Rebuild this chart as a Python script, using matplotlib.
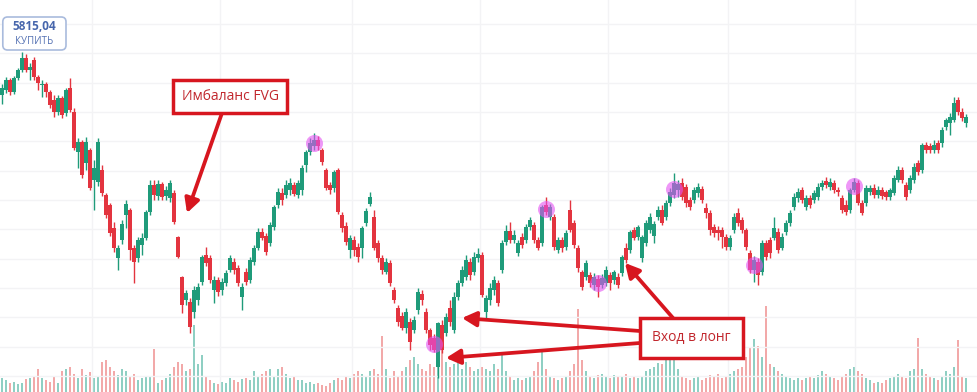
import numpy as np
import matplotlib
matplotlib.use("Agg")
import matplotlib.pyplot as plt
from matplotlib.patches import Rectangle, FancyBboxPatch

# OHLC (one candle per bar)
opens = [
    5837, 5842, 5852, 5840, 5854, 5862, 5874, 5862, 5872, 5855,
    5847, 5848, 5840, 5832, 5820, 5834, 5819, 5844, 5820, 5780,
    5790, 5769, 5782, 5752, 5750, 5762, 5737, 5727, 5704, 5674,
    5692, 5717, 5722, 5684, 5674, 5687, 5694, 5720, 5747, 5736,
    5748, 5736, 5734, 5739, 5695, 5655, 5632, 5630, 5620, 5632,
    5650, 5677, 5674, 5642, 5652, 5642, 5649, 5662, 5670, 5664,
    5635, 5660, 5652, 5670, 5684, 5700, 5696, 5689, 5705, 5727,
    5739, 5737, 5742, 5747, 5737, 5742, 5767, 5780, 5786, 5792,
    5782, 5762, 5747, 5744, 5762, 5717, 5706, 5682, 5692, 5685,
    5684, 5709, 5728, 5715, 5689, 5674, 5660, 5669, 5642, 5624,
    5616, 5604, 5610, 5602, 5622, 5638, 5620, 5602, 5594, 5565,
    5607, 5599, 5624, 5602, 5635, 5649, 5655, 5670, 5660, 5674,
    5677, 5620, 5632, 5642, 5649, 5662, 5690, 5701, 5692, 5679,
    5695, 5692, 5705, 5707, 5692, 5689, 5727, 5715, 5715, 5682,
    5692, 5685, 5722, 5709, 5684, 5660, 5655, 5657, 5647, 5653,
    5647, 5649, 5657, 5652, 5655, 5659, 5684, 5682, 5702, 5695,
    5674, 5689, 5702, 5696, 5715, 5722, 5715, 5729, 5737, 5742,
    5749, 5745, 5732, 5732, 5739, 5743, 5724, 5719, 5705, 5702,
    5702, 5695, 5685, 5702, 5719, 5712, 5702, 5679, 5662, 5670,
    5660, 5689, 5692, 5694, 5700, 5684, 5700, 5709, 5725, 5734,
    5742, 5725, 5734, 5732, 5735, 5745, 5751, 5745, 5749, 5742,
    5734, 5727, 5722, 5742, 5749, 5729, 5729, 5740, 5744, 5737,
    5742, 5740, 5735, 5739, 5752, 5762, 5747, 5742, 5752, 5769,
    5762, 5787, 5786, 5782, 5789, 5789, 5805, 5809, 5812, 5832,
    5820, 5809,
]
highs = [
    5848, 5855, 5854, 5856, 5864, 5880, 5878, 5869, 5875, 5857,
    5852, 5850, 5842, 5837, 5837, 5836, 5844, 5854, 5824, 5794,
    5792, 5795, 5784, 5772, 5794, 5767, 5739, 5729, 5710, 5687,
    5712, 5732, 5724, 5687, 5695, 5699, 5722, 5752, 5752, 5752,
    5750, 5746, 5752, 5742, 5696, 5656, 5642, 5634, 5646, 5649,
    5677, 5685, 5677, 5656, 5655, 5654, 5662, 5677, 5674, 5667,
    5649, 5664, 5675, 5687, 5704, 5704, 5699, 5710, 5727, 5744,
    5744, 5752, 5754, 5750, 5752, 5767, 5782, 5794, 5799, 5796,
    5784, 5764, 5750, 5762, 5764, 5720, 5710, 5697, 5696, 5689,
    5706, 5724, 5740, 5722, 5692, 5677, 5674, 5672, 5645, 5627,
    5620, 5624, 5614, 5616, 5644, 5642, 5624, 5604, 5598, 5610,
    5612, 5619, 5632, 5640, 5652, 5666, 5677, 5674, 5680, 5684,
    5680, 5637, 5649, 5656, 5652, 5692, 5707, 5710, 5702, 5692,
    5699, 5708, 5715, 5710, 5695, 5727, 5735, 5728, 5718, 5695,
    5695, 5702, 5732, 5712, 5687, 5662, 5672, 5660, 5659, 5657,
    5658, 5666, 5660, 5662, 5659, 5677, 5689, 5702, 5705, 5707,
    5697, 5712, 5719, 5711, 5726, 5727, 5732, 5744, 5759, 5752,
    5754, 5748, 5735, 5745, 5749, 5746, 5729, 5722, 5708, 5706,
    5705, 5698, 5697, 5719, 5724, 5715, 5704, 5682, 5676, 5674,
    5692, 5692, 5695, 5715, 5704, 5699, 5712, 5722, 5739, 5744,
    5745, 5737, 5737, 5742, 5749, 5752, 5755, 5754, 5752, 5745,
    5737, 5732, 5744, 5754, 5752, 5732, 5747, 5747, 5748, 5746,
    5745, 5742, 5744, 5757, 5766, 5765, 5750, 5757, 5769, 5772,
    5789, 5790, 5789, 5792, 5792, 5805, 5814, 5819, 5835, 5835,
    5824, 5818,
]
lows = [
    5828, 5839, 5837, 5838, 5852, 5860, 5860, 5852, 5852, 5842,
    5835, 5835, 5824, 5815, 5817, 5814, 5816, 5820, 5782, 5764,
    5754, 5762, 5742, 5722, 5746, 5736, 5714, 5696, 5680, 5662,
    5688, 5704, 5672, 5649, 5670, 5677, 5692, 5717, 5732, 5732,
    5732, 5732, 5730, 5708, 5674, 5619, 5627, 5599, 5614, 5627,
    5647, 5666, 5649, 5629, 5636, 5637, 5646, 5660, 5658, 5646,
    5622, 5647, 5649, 5667, 5682, 5692, 5677, 5686, 5702, 5724,
    5727, 5734, 5737, 5736, 5734, 5737, 5760, 5777, 5782, 5782,
    5767, 5742, 5738, 5740, 5718, 5700, 5687, 5674, 5676, 5670,
    5674, 5706, 5726, 5682, 5670, 5658, 5658, 5646, 5629, 5606,
    5602, 5599, 5582, 5599, 5618, 5627, 5599, 5582, 5580, 5554,
    5579, 5596, 5606, 5599, 5632, 5646, 5652, 5652, 5657, 5670,
    5635, 5614, 5627, 5637, 5626, 5659, 5687, 5689, 5689, 5676,
    5684, 5689, 5702, 5689, 5682, 5686, 5717, 5712, 5682, 5679,
    5680, 5682, 5700, 5684, 5660, 5642, 5652, 5645, 5642, 5635,
    5644, 5646, 5642, 5648, 5644, 5656, 5669, 5679, 5692, 5692,
    5670, 5686, 5699, 5689, 5712, 5707, 5712, 5726, 5734, 5735,
    5732, 5725, 5722, 5729, 5735, 5729, 5714, 5697, 5695, 5692,
    5684, 5682, 5682, 5699, 5706, 5699, 5682, 5659, 5650, 5647,
    5657, 5672, 5674, 5692, 5679, 5682, 5697, 5706, 5722, 5730,
    5729, 5722, 5724, 5729, 5732, 5742, 5744, 5742, 5739, 5736,
    5719, 5717, 5719, 5740, 5727, 5717, 5726, 5737, 5734, 5734,
    5733, 5732, 5732, 5737, 5750, 5749, 5732, 5739, 5749, 5757,
    5759, 5779, 5779, 5779, 5779, 5785, 5802, 5797, 5810, 5817,
    5811, 5805,
]
closes = [
    5844, 5852, 5840, 5854, 5862, 5874, 5862, 5865, 5855, 5849,
    5848, 5840, 5827, 5820, 5834, 5817, 5842, 5822, 5784, 5790,
    5757, 5790, 5744, 5764, 5790, 5739, 5717, 5699, 5684, 5684,
    5708, 5728, 5682, 5670, 5692, 5694, 5720, 5747, 5737, 5748,
    5735, 5742, 5749, 5710, 5675, 5627, 5639, 5605, 5642, 5645,
    5675, 5669, 5652, 5652, 5640, 5650, 5659, 5674, 5662, 5649,
    5645, 5650, 5672, 5684, 5700, 5694, 5680, 5707, 5725, 5740,
    5732, 5747, 5749, 5738, 5749, 5764, 5780, 5789, 5792, 5786,
    5770, 5744, 5742, 5760, 5720, 5704, 5690, 5694, 5682, 5675,
    5704, 5721, 5735, 5684, 5674, 5662, 5670, 5649, 5632, 5610,
    5604, 5620, 5590, 5612, 5640, 5632, 5602, 5587, 5582, 5609,
    5582, 5615, 5610, 5635, 5649, 5662, 5672, 5657, 5675, 5678,
    5637, 5634, 5644, 5652, 5629, 5689, 5701, 5692, 5697, 5689,
    5687, 5705, 5712, 5692, 5684, 5725, 5720, 5725, 5685, 5692,
    5684, 5699, 5702, 5687, 5664, 5645, 5669, 5649, 5655, 5645,
    5654, 5662, 5649, 5660, 5647, 5675, 5672, 5700, 5694, 5705,
    5695, 5709, 5715, 5708, 5722, 5709, 5729, 5740, 5749, 5748,
    5735, 5729, 5725, 5742, 5745, 5732, 5719, 5702, 5699, 5699,
    5695, 5685, 5694, 5715, 5709, 5702, 5685, 5662, 5672, 5657,
    5689, 5675, 5679, 5704, 5682, 5695, 5709, 5719, 5735, 5740,
    5732, 5734, 5727, 5739, 5745, 5749, 5747, 5750, 5742, 5740,
    5722, 5720, 5742, 5750, 5729, 5719, 5744, 5744, 5737, 5742,
    5736, 5735, 5742, 5754, 5762, 5752, 5735, 5754, 5765, 5760,
    5787, 5782, 5782, 5787, 5782, 5802, 5812, 5815, 5829, 5820,
    5814, 5815,
]
volumes = [
    12, 10, 8, 9, 7, 8, 11, 12, 14, 20,
    12, 10, 9, 14, 8, 18, 20, 22, 16, 12,
    20, 15, 17, 12, 14, 26, 28, 22, 18, 15,
    20, 18, 13, 16, 10, 12, 14, 14, 37, 8,
    10, 12, 16, 22, 26, 24, 18, 20, 58, 24,
    32, 14, 10, 8, 7, 9, 8, 12, 10, 9,
    11, 12, 10, 18, 14, 16, 18, 20, 14, 20,
    22, 16, 12, 14, 10, 10, 8, 9, 7, 8,
    6, 5, 8, 10, 12, 10, 14, 12, 16, 18,
    16, 14, 18, 20, 16, 49, 20, 12, 18, 14,
    18, 22, 28, 30, 24, 20, 18, 24, 22, 34,
    36, 26, 22, 24, 25, 20, 26, 22, 18, 20,
    22, 20, 18, 24, 20, 32, 18, 14, 10, 12,
    10, 12, 14, 18, 26, 36, 20, 14, 12, 10,
    12, 14, 18, 24, 72, 28, 18, 14, 12, 15,
    16, 14, 12, 15, 13, 14, 16, 12, 14, 12,
    14, 18, 20, 22, 25, 24, 28, 30, 32, 20,
    14, 12, 10, 12, 14, 10, 12, 15, 14, 16,
    12, 14, 16, 18, 20, 22, 30, 38, 46, 40,
    30, 75, 24, 22, 18, 16, 14, 12, 10, 12,
    10, 12, 14, 12, 15, 18, 16, 14, 12, 10,
    14, 16, 20, 22, 18, 16, 12, 10, 8, 9,
    8, 10, 12, 14, 16, 14, 12, 18, 20, 47,
    20, 16, 14, 12, 10, 14, 18, 16, 22, 45,
    14, 12,
]
# candles marked with a magenta dot
pivots = [78, 108, 136, 149, 168, 188, 213]
last_price = "5815,04"
buy_label = "КУПИТЬ"
fvg_label = "Имбаланс FVG"
entry_label = "Вход в лонг"

up_color = "#1f9b7a"
down_color = "#e3343f"
up_vol = "#8fcfc3"
down_vol = "#f2a9a9"
red = "#d7161f"
fonts = ["Open Sans", "DejaVu Sans"]

o = np.array(opens, dtype=float)
h = np.array(highs, dtype=float)
l = np.array(lows, dtype=float)
c = np.array(closes, dtype=float)
idx = np.arange(len(c))
up = c >= o
colors = np.where(up, up_color, down_color)

fig = plt.figure(figsize=(9.78, 3.92), dpi=100)
fig.patch.set_facecolor("white")
ax = fig.add_axes([0, 0, 1, 1])
axv = ax.twinx()
ax.set_zorder(2)
ax.patch.set_visible(False)
axv.set_zorder(1)

ax.set_xlim(-0.5, 244)
ax.set_ylim(5540, 5932)
axv.set_ylim(0, 340)

# grid
ax.set_yticks(np.arange(5556, 5920, 29.33))
ax.set_xticks([22.5, 54.5, 87.5, 119.5, 151.5, 181.5, 213.25])
ax.grid(True, color="#f3f3f5", lw=1.0, zorder=0)
for a in (ax, axv):
    a.tick_params(length=0, labelleft=False, labelright=False, labelbottom=False)
    for s in a.spines.values():
        s.set_visible(False)
axv.set_yticks([])

# volume
axv.bar(idx, volumes, width=0.6, color=np.where(up, up_vol, down_vol), lw=0)

# candles
ax.vlines(idx, l, h, colors=colors, lw=1.0, zorder=3)
body_low = np.minimum(o, c)
body_h = np.maximum(np.abs(c - o), 1.5)
ax.bar(idx, body_h, bottom=body_low, width=0.8, color=colors, lw=0, zorder=4)

# pivot dots
pv = np.array(pivots)
ax.scatter(pv, (o[pv] + c[pv]) / 2, s=150, color="#e452f2", alpha=0.6, lw=0, zorder=5)

# arrows
arrow = dict(arrowstyle="-|>,head_length=0.85,head_width=0.45", color=red, lw=2.7,
             shrinkA=0, shrinkB=0)
ax.annotate("", xy=(46.25, 5719), xytext=(55, 5819), arrowprops=arrow, zorder=6)
ax.annotate("", xy=(115, 5614), xytext=(159.5, 5601), arrowprops=arrow, zorder=6)
ax.annotate("", xy=(111, 5574), xytext=(159.5, 5589), arrowprops=arrow, zorder=6)
ax.annotate("", xy=(155.75, 5669), xytext=(167.75, 5614), arrowprops=arrow, zorder=6)

# labelled boxes
ax.add_patch(Rectangle((42.75, 5819), 28.5, 33, facecolor="white", edgecolor=red,
                       lw=2.5, zorder=7))
ax.text(57, 5835.5, fvg_label, color="#c1272d", fontsize=10, family=fonts,
        ha="center", va="center", zorder=8)
ax.add_patch(Rectangle((159.5, 5574), 25.75, 40, facecolor="white", edgecolor=red,
                       lw=2.5, zorder=7))
ax.text(172.4, 5594, entry_label, color="#c1272d", fontsize=10, family=fonts,
        ha="center", va="center", zorder=8)

# buy button
ax.add_patch(FancyBboxPatch((0.2, 5882), 15.8, 33,
                            boxstyle="round,pad=0,rounding_size=1.2",
                            mutation_aspect=4, facecolor="white",
                            edgecolor="#a9bbdd", lw=1.2, zorder=7))
ax.text(8.1, 5905, last_price, color="#4766ac", fontsize=8.5, fontweight="bold",
        family=fonts, ha="center", va="center", zorder=8)
ax.text(8.1, 5890, buy_label, color="#5572b3", fontsize=7, family=fonts,
        ha="center", va="center", zorder=8)

fig.savefig("out.png", dpi=100, facecolor="white")
